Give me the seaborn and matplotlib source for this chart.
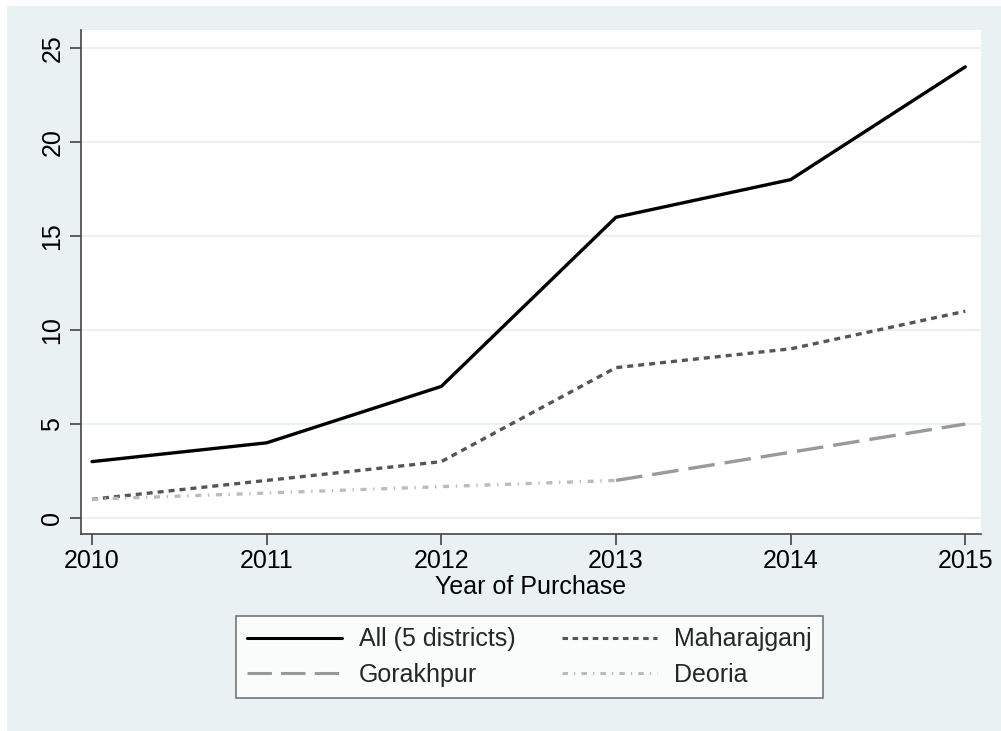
import matplotlib
matplotlib.use("Agg")
import matplotlib.pyplot as plt
from matplotlib.patches import Rectangle
import seaborn as sns
import pandas as pd
import numpy as np

years = [2010, 2011, 2012, 2013, 2014, 2015]
all_districts = [3, 4, 7, 16, 18, 24]
maharajganj = [1, 2, 3, 8, 9, 11]
gorakhpur = [np.nan, np.nan, np.nan, 2, 3.5, 5]
deoria = [1, 1.33, 1.67, 2, np.nan, np.nan]
series_names = ["All (5 districts)", "Maharajganj", "Gorakhpur", "Deoria"]
yticks = [0, 5, 10, 15, 20, 25]

df = pd.DataFrame({
    "Year": years * 4,
    "Value": all_districts + maharajganj + gorakhpur + deoria,
    "Series": sum([[n] * len(years) for n in series_names], []),
})

sns.set_theme(style="white")
plt.rcParams["font.family"] = ["Liberation Sans", "DejaVu Sans"]

BG = "#EAF1F3"
W, H = 1001, 731
fig = plt.figure(figsize=(W / 100, H / 100), dpi=100)
fig.patch.set_facecolor("white")
fig.patches.append(Rectangle((7 / W, 0), 1 - 7 / W, (H - 6) / H,
                             transform=fig.transFigure, facecolor=BG,
                             edgecolor="none", zorder=-10))

ax = fig.add_axes([81 / W, (H - 534) / H, 900 / W, 504 / H])
ax.set_facecolor("white")

palette = {"All (5 districts)": "#000000", "Maharajganj": "#555555",
           "Gorakhpur": "#999999", "Deoria": "#bbbbbb"}
dashes = {"All (5 districts)": "", "Maharajganj": (1.8, 1.5),
          "Gorakhpur": (8, 3), "Deoria": (1.8, 2.0, 0.4, 2.0)}

sns.lineplot(data=df, x="Year", y="Value", hue="Series", style="Series",
             hue_order=series_names, style_order=series_names,
             palette=palette, dashes=dashes, linewidth=2.4, ax=ax,
             legend=True)

for line in ax.lines:
    if line.get_label() == "All (5 districts)":
        line.set_linewidth(2.6)

handles, labels = ax.get_legend_handles_labels()
ax.get_legend().remove()
hmap = dict(zip(labels, handles))
order = ["All (5 districts)", "Gorakhpur", "Maharajganj", "Deoria"]

ax.set_xlim(2009.937, 2015.09)
ax.set_ylim(-0.85, 25.96)
ax.set_xticks(years)
ax.set_xticklabels([str(y) for y in years])
ax.set_yticks(yticks)
ax.set_yticklabels([str(t) for t in yticks], rotation=90, va="center")
ax.grid(axis="y", color=BG, linewidth=1.5)
ax.grid(axis="x", visible=False)
for s in ["top", "right"]:
    ax.spines[s].set_visible(False)
for s in ["left", "bottom"]:
    ax.spines[s].set_color("#444444")
    ax.spines[s].set_linewidth(1.2)
ax.tick_params(axis="both", which="major", direction="out", length=8,
               width=1.2, color="#444444", labelsize=18, labelcolor="black",
               left=True, bottom=True)
ax.tick_params(axis="y", pad=4)
ax.tick_params(axis="x", pad=3)
ax.set_xlabel("Year of Purchase", fontsize=18, labelpad=1, color="black")
ax.set_ylabel("")

leg = fig.legend([hmap[k] for k in order], order, loc="center", ncol=2,
                 bbox_to_anchor=(529.5 / W, (H - 657) / H),
                 fontsize=18, frameon=True, fancybox=False,
                 handlelength=3.8, handletextpad=0.68, columnspacing=1.85,
                 labelspacing=0.45, borderpad=0.45)
leg.get_frame().set_edgecolor("#555555")
leg.get_frame().set_linewidth(1.2)
leg.get_frame().set_facecolor("white")
for h in leg.get_lines():
    h.set_linewidth(2.2)

fig.savefig("out.png", dpi=100, facecolor=fig.get_facecolor())
